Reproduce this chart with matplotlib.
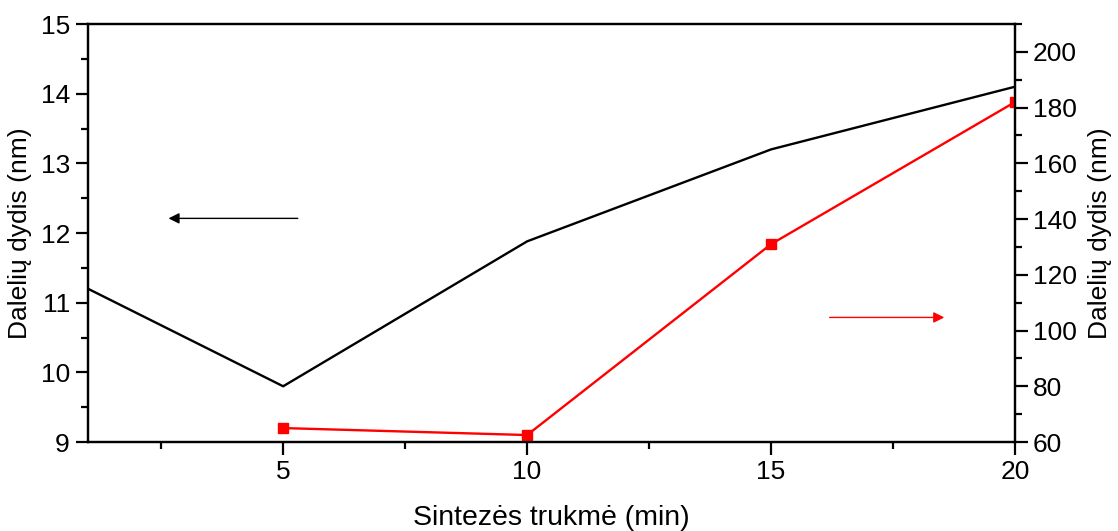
import matplotlib
matplotlib.use("Agg")
import matplotlib.pyplot as plt
from matplotlib.ticker import MultipleLocator

plt.rcParams['font.family'] = ['Liberation Sans', 'DejaVu Sans']

# Synthesis time (min)
time_black = [1, 5, 10, 15, 20]
size_left_nm = [11.2, 9.8, 11.88, 13.2, 14.1]

time_red = [5, 10, 15, 20]
size_right_nm = [65, 62.5, 131, 182]

x_ticks = [5, 10, 15, 20]
left_ticks = [9, 10, 11, 12, 13, 14, 15]
right_ticks = [60, 80, 100, 120, 140, 160, 180, 200]

fig = plt.figure(figsize=(11.18, 5.31), dpi=100)
ax = fig.add_axes([0.0787, 0.1676, 0.8292, 0.7872])
ax2 = ax.twinx()

ax.plot(time_black, size_left_nm, color='black', lw=1.7)
ax2.plot(time_red, size_right_nm, color='#ff0000', lw=1.7,
         marker='s', markersize=7.5)

ax.set_xlim(1, 20)
ax.set_ylim(9, 15)
ax2.set_ylim(60, 210)

ax.set_xticks(x_ticks)
ax.xaxis.set_minor_locator(MultipleLocator(2.5))
ax.set_yticks(left_ticks)
ax.yaxis.set_minor_locator(MultipleLocator(0.5))
ax2.set_yticks(right_ticks)
ax2.yaxis.set_minor_locator(MultipleLocator(10))

for a in (ax, ax2):
    for s in a.spines.values():
        s.set_linewidth(1.6)
    a.tick_params(which='major', direction='out', length=9, width=1.6,
                  labelsize=19, pad=4)
    a.tick_params(which='minor', direction='out', length=5, width=1.6)
ax.tick_params(axis='x', which='both', top=False)

ax.set_xlabel('Sintezės trukmė (min)', fontsize=20.5, labelpad=15)
ax.set_ylabel('Dalelių dydis (nm)', fontsize=19, labelpad=6)
ax2.set_ylabel('Dalelių dydis (nm)', fontsize=19, labelpad=8)

# Arrows pointing to the axis each curve belongs to
ax.annotate('', xy=(2.65, 12.21), xytext=(5.3, 12.21),
            arrowprops=dict(arrowstyle='-|>', color='black', lw=1.0,
                            mutation_scale=16, shrinkA=0, shrinkB=0))
ax2.annotate('', xy=(18.55, 104.7), xytext=(16.2, 104.7),
             arrowprops=dict(arrowstyle='-|>', color='#ff0000', lw=1.0,
                             mutation_scale=16, shrinkA=0, shrinkB=0))

fig.savefig('out.png', dpi=100)
